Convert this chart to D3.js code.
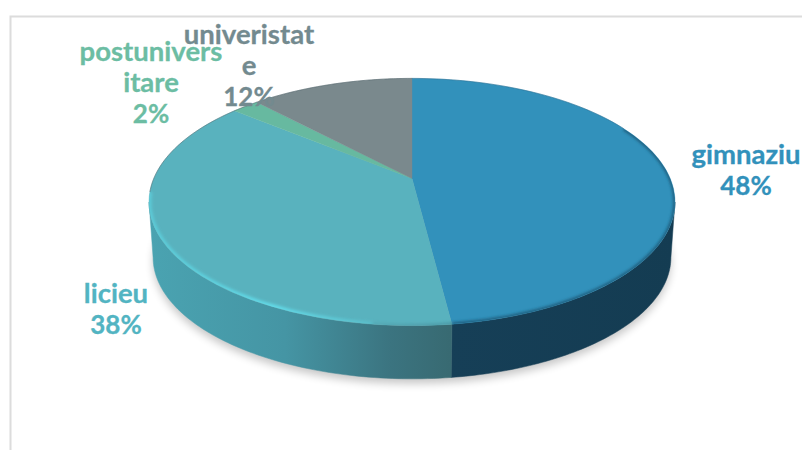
<!DOCTYPE html>
<html><head><meta charset="utf-8">
<script src="https://cdn.jsdelivr.net/npm/d3@7"></script>
<style>html,body{margin:0;padding:0;background:#fff}svg{display:block}text{font-family:Lato,sans-serif;font-weight:700;text-anchor:middle}</style>
</head><body><svg id="c" width="802" height="450"></svg>
<script>
const categories = ["gimnaziu","licieu","postunivers\nitare","univeristat\ne"];
const values = [48,38,2,12];
const labels = ["48%","38%","2%","12%"];
const topColors = ["#3291bb","#59b2be","#67b9a0","#7a898d"];
const sideColors = ["#153e54","#3f8f9e","#3f8f7a","#55646a"];
const labelColors = ["#3291bb","#52b4c2","#6cbda3","#738a8f"];

const layout = {x:[746,116,151,249], y:[164,303,61,44], size:[27.5,27.5,27.5,27.5]};
const svg = d3.select("#c");
const defs = svg.append("defs");
const blur=(id,s)=>defs.append("filter").attr("id",id).attr("filterUnits","userSpaceOnUse")
  .attr("x",0).attr("y",0).attr("width",802).attr("height",450)
  .append("feGaussianBlur").attr("stdDeviation",s);
blur("shadow",4); blur("soft",1.8);
const grad=(id,x1,x2,stops)=>{
  const g=defs.append("linearGradient").attr("id",id).attr("gradientUnits","userSpaceOnUse")
    .attr("x1",x1).attr("x2",x2).attr("y1",0).attr("y2",0);
  stops.forEach(s=>g.append("stop").attr("offset",s[0]).attr("stop-color",s[1]).attr("stop-opacity",s[2]===undefined?1:s[2]));
};
grad("tealSide",150,450,[[0,"#4aa3b1"],[.45,"#4595a4"],[.8,"#3b7480"],[1,"#386a72"]]);
grad("blueSide",450,675,[[0,"#163f57"],[1,"#143c52"]]);
grad("hi",150,430,[[0,"#5ccfdc",.85],[.45,"#62dbe9",1],[.8,"#5fcfdc",.5],[1,"#5fcfdc",0]]);
grad("rimT",450,330,[[0,"#4b98a5",1],[1,"#4b98a5",0]]);

// frame
svg.append("path").attr("d","M10.5,450V16.5H802").attr("fill","none").attr("stroke","#dcdcdc").attr("stroke-width",2);

// perspective projection of the pie disc
const k=-0.19, a=85.2, c=258.2, cx=412, cy=178.5;
const project=(ang,dy=0,s=1)=>{
  const x=Math.sin(ang)*s, y=-Math.cos(ang)*s;
  const d=1+k*y;
  return [cx+c*x/d, (a*y+cy)/d+dy];
};
const pie=d3.pie().sort(null).value(d=>d).startAngle(0).endAngle(2*Math.PI);
const arcs=pie(values);
const line=d3.line();
const arcPts=(a0,a1,dy=0,s=1)=>d3.range(0,81).map(i=>project(a0+(a1-a0)*i/80,dy,s));
const depth=56, lowS=.985;
const wideR=Math.acos(k), wideL=2*Math.PI-wideR;

defs.append("clipPath").attr("id","disc").append("path").attr("d",line(arcPts(0,2*Math.PI))+"Z");

// drop shadow
svg.append("path").attr("d",line(arcPts(0,2*Math.PI,depth+5,.985))+"Z")
  .attr("fill","#000").attr("opacity",.22).attr("filter","url(#shadow)");

// sides
const sideFill=["url(#blueSide)","url(#tealSide)",sideColors[2],sideColors[3]];
arcs.forEach((d,i)=>{
  const lo=Math.max(d.startAngle,wideR), hi=Math.min(d.endAngle,wideL);
  if(hi<=lo) return;
  const pts=arcPts(lo,hi,0,1).concat(arcPts(lo,hi,depth,lowS).reverse());
  svg.append("path").attr("d",line(pts)+"Z").attr("fill",sideFill[i]).attr("stroke",sideFill[i]).attr("stroke-width",.5);
});

// top faces
arcs.forEach((d,i)=>{
  const pts=[project(0,0,0)].concat(arcPts(d.startAngle,d.endAngle));
  svg.append("path").attr("d",line(pts)+"Z").attr("fill",topColors[i]).attr("stroke",topColors[i]).attr("stroke-width",.4);
});

// soft bevel along the rims, kept inside the disc
const d0=arcs[0], d1=arcs[1];
const bevel=svg.append("g").attr("clip-path","url(#disc)");
bevel.append("path").attr("d",line(arcPts(1.1,d0.endAngle,0,1)))
  .attr("fill","none").attr("stroke","#1d5c7c").attr("stroke-width",3.5).attr("filter","url(#soft)");
bevel.append("path").attr("d",line(arcPts(d1.startAngle,d1.startAngle+.9,0,1)))
  .attr("fill","none").attr("stroke","url(#rimT)").attr("stroke-width",3.5).attr("filter","url(#soft)");
bevel.append("path").attr("d",line(arcPts(d1.startAngle+.25,wideL+.08,0,1)))
  .attr("fill","none").attr("stroke","url(#hi)").attr("stroke-width",5).attr("filter","url(#soft)");
// thin dark edge on the far rim
svg.append("path").attr("d",line(arcPts(wideL+.08,2*Math.PI)))
  .attr("fill","none").attr("stroke","#4d5f66").attr("stroke-width",.7).attr("opacity",.7);
svg.append("path").attr("d",line(arcPts(0,1.1)))
  .attr("fill","none").attr("stroke","#1f5f80").attr("stroke-width",.7).attr("opacity",.6);

// labels
categories.forEach((cat,i)=>{
  const rows=cat.split("\n");
  const t=svg.append("text").attr("fill",labelColors[i]).attr("stroke",labelColors[i]).attr("stroke-width",.3);
  rows.forEach((r,j)=>t.append("tspan").attr("x",layout.x[i]).attr("y",layout.y[i]+j*31).attr("font-size",layout.size[i]).text(r));
  t.append("tspan").attr("x",layout.x[i]).attr("y",layout.y[i]+rows.length*31).attr("font-size",26).text(labels[i]);
});
</script></body></html>
